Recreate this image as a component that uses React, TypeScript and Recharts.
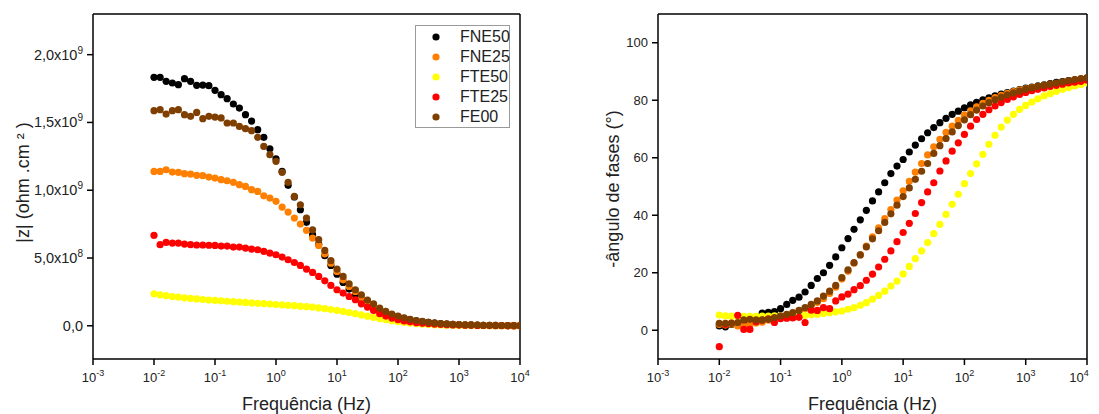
import React from "react";
import { ScatterChart, Scatter, XAxis, YAxis, Legend, ReferenceLine } from "recharts";

const FONT = '"Liberation Sans", Arial, sans-serif';
const TEXT = "#222";

// measured frequencies, 10 points per decade (Hz)
const freqs = [
  0.01, 0.0126, 0.0158, 0.02, 0.0251, 0.0316, 0.0398, 0.0501, 0.0631, 0.0794,
  0.1, 0.126, 0.158, 0.2, 0.251, 0.316, 0.398, 0.501, 0.631, 0.794,
  1, 1.26, 1.58, 2, 2.51, 3.16, 3.98, 5.01, 6.31, 7.94,
  10, 12.6, 15.8, 20, 25.1, 31.6, 39.8, 50.1, 63.1, 79.4,
  100, 126, 158, 200, 251, 316, 398, 501, 631, 794,
  1000, 1260, 1580, 2000, 2510, 3160, 3980, 5010, 6310, 7940,
  10000,
];

const decadeTicks = [0.001, 0.01, 0.1, 1, 10, 100, 1000, 10000];
const zTicks = [0, 0.5, 1.0, 1.5, 2.0]; // x10^9 ohm.cm²
const phaseTicks = [0, 20, 40, 60, 80, 100];
const xDomain = [0.001, 10000];
const zDomain = [-0.245, 2.3];
const phDomain = [-10, 110];

const seriesNames = ["FNE50", "FNE25", "FTE50", "FTE25", "FE00"];
const seriesColors = ["#000000", "#ff8000", "#ffff00", "#ff0000", "#7f3f00"];

// |Z| in units of 10^9 ohm.cm²
const zFNE50 = [
  1.833, 1.833, 1.803, 1.791, 1.779, 1.823, 1.803, 1.774, 1.776, 1.771,
  1.737, 1.705, 1.675, 1.636, 1.606, 1.557, 1.51, 1.447, 1.39, 1.306,
  1.232, 1.139, 1.036, 0.95, 0.856, 0.763, 0.672, 0.6, 0.517, 0.445,
  0.381, 0.32, 0.271, 0.229, 0.197, 0.165, 0.138, 0.115, 0.096, 0.08,
  0.067, 0.055, 0.045, 0.037, 0.03, 0.025, 0.02, 0.016, 0.013, 0.011,
  0.009, 0.007, 0.006, 0.005, 0.004, 0.0033, 0.0027, 0.0022, 0.0018, 0.0015,
  0.0012,
];
const zFNE25 = [
  1.139, 1.139, 1.151, 1.134, 1.132, 1.122, 1.119, 1.11, 1.107, 1.097,
  1.09, 1.078, 1.07, 1.058, 1.041, 1.028, 1.004, 0.991, 0.959, 0.942,
  0.918, 0.876, 0.839, 0.795, 0.75, 0.704, 0.647, 0.593, 0.531, 0.462,
  0.401, 0.339, 0.29, 0.253, 0.209, 0.17, 0.14, 0.113, 0.09, 0.072,
  0.058, 0.047, 0.038, 0.03, 0.024, 0.019, 0.016, 0.013, 0.01, 0.008,
  0.0065, 0.0053, 0.0043, 0.0035, 0.0028, 0.0023, 0.0019, 0.0015, 0.0012, 0.001,
  0.0008,
];
const zFTE50 = [
  0.236, 0.228, 0.222, 0.216, 0.211, 0.206, 0.202, 0.198, 0.194, 0.19,
  0.187, 0.184, 0.181, 0.178, 0.175, 0.172, 0.169, 0.166, 0.163, 0.16,
  0.157, 0.154, 0.151, 0.148, 0.145, 0.141, 0.137, 0.132, 0.126, 0.12,
  0.113, 0.106, 0.098, 0.089, 0.08, 0.071, 0.062, 0.053, 0.045, 0.038,
  0.031, 0.025, 0.02, 0.016, 0.012, 0.0095, 0.0075, 0.006, 0.0047, 0.0037,
  0.003, 0.0024, 0.0019, 0.0015, 0.0012, 0.001, 0.0008, 0.0006, 0.0005, 0.0004,
  0.0003,
];
const zFTE25 = [
  0.667, 0.598, 0.615, 0.61, 0.61, 0.603, 0.598, 0.596, 0.596, 0.594,
  0.593, 0.588, 0.588, 0.581, 0.581, 0.573, 0.566, 0.561, 0.549, 0.536,
  0.524, 0.507, 0.487, 0.467, 0.445, 0.418, 0.394, 0.364, 0.332, 0.298,
  0.266, 0.241, 0.216, 0.192, 0.162, 0.138, 0.113, 0.089, 0.072, 0.057,
  0.045, 0.036, 0.029, 0.023, 0.018, 0.015, 0.012, 0.0095, 0.0077, 0.0062,
  0.005, 0.004, 0.0033, 0.0027, 0.0022, 0.0018, 0.0015, 0.0012, 0.001, 0.0008,
  0.0007,
];
const zFE00 = [
  1.587, 1.594, 1.562, 1.587, 1.594, 1.557, 1.545, 1.574, 1.528, 1.545,
  1.54, 1.533, 1.496, 1.496, 1.471, 1.454, 1.439, 1.39, 1.323, 1.262,
  1.213, 1.132, 1.058, 0.954, 0.893, 0.795, 0.708, 0.635, 0.556, 0.48,
  0.418, 0.364, 0.31, 0.266, 0.229, 0.19, 0.162, 0.13, 0.106, 0.087,
  0.072, 0.059, 0.048, 0.039, 0.032, 0.026, 0.021, 0.017, 0.014, 0.011,
  0.009, 0.0075, 0.006, 0.005, 0.004, 0.0033, 0.0027, 0.0022, 0.0018, 0.0015,
  0.0012,
];

// -phase angle (degrees)
const phFNE50 = [
  1.5, 1.2, 2.0, 2.4, 3.0, 3.3, 3.8, 6.0, 6.2, 6.5,
  7.5, 9.0, 10.4, 11.5, 13.3, 15.6, 18.0, 20.0, 22.6, 25.5,
  28.7, 31.9, 35.1, 38.4, 41.7, 45.0, 48.1, 51.3, 54.5, 57.1,
  59.4, 62.0, 64.4, 66.6, 68.7, 70.5, 72.2, 73.7, 75.1, 76.2,
  77.4, 78.4, 79.3, 80.1, 80.8, 81.5, 82.1, 82.7, 83.2, 83.7,
  84.2, 84.6, 85.0, 85.4, 85.8, 86.2, 86.5, 86.8, 87.1, 87.4,
  87.7,
];
const phFNE25 = [
  2.0, 1.8, 2.2, 1.5, 1.5, 2.0, 2.5, 2.8, 3.5, 4.0,
  4.5, 5.2, 5.8, 6.5, 7.5, 8.5, 9.7, 11.0, 12.8, 15.0,
  17.8, 20.5, 23.3, 26.3, 29.3, 32.5, 35.6, 38.8, 42.0, 45.3,
  48.5, 51.8, 55.0, 58.0, 61.0, 63.8, 66.4, 68.8, 71.0, 73.0,
  74.8, 76.3, 77.7, 78.9, 80.0, 80.9, 81.7, 82.4, 83.0, 83.5,
  84.0, 84.4, 84.8, 85.2, 85.5, 85.8, 86.1, 86.4, 86.7, 87.0,
  87.3,
];
const phFTE50 = [
  5.3, 5.0, 4.9, 4.8, 4.8, 4.8, 4.8, 4.9, 4.9, 5.0,
  5.0, 5.0, 5.1, 5.1, 5.2, 5.4, 5.6, 5.8, 6.1, 6.4,
  6.7, 7.3, 7.9, 8.7, 9.6, 10.8, 12.1, 13.6, 15.4, 17.1,
  19.6, 22.2, 24.9, 27.6, 30.5, 33.6, 36.8, 40.3, 43.8, 47.3,
  51.0, 54.5, 57.9, 61.2, 64.7, 67.8, 70.7, 73.1, 75.1, 76.8,
  78.2, 79.4, 80.5, 81.5, 82.3, 83.1, 83.8, 84.4, 85.0, 85.5,
  86.0,
];
const phFTE25 = [
  -5.7, 2.0, 2.5, 5.2, 0.3, 0.3, 3.0, 3.5, 4.0, 2.7,
  4.0, 4.2, 4.3, 4.5, 2.7, 7.0, 6.9, 7.9, 7.5, 10.2,
  11.6, 12.6, 14.1, 15.5, 17.4, 19.5, 22.0, 24.7, 27.6, 30.8,
  34.0, 37.2, 40.6, 44.4, 48.1, 51.3, 55.4, 58.9, 62.3, 65.2,
  68.1, 71.0, 73.3, 75.1, 76.7, 78.0, 79.2, 80.3, 81.2, 82.0,
  82.7, 83.3, 83.8, 84.3, 84.8, 85.2, 85.6, 86.0, 86.3, 86.6,
  87.0,
];
const phFE00 = [
  2.4, 2.4, 2.4, 2.7, 3.6, 3.8, 3.6, 3.6, 3.8, 4.4,
  5.0, 5.5, 6.1, 6.9, 7.9, 9.0, 10.2, 11.9, 13.6, 15.6,
  18.3, 21.0, 23.5, 26.2, 29.0, 31.8, 34.6, 37.5, 40.5, 43.5,
  46.5, 49.5, 52.5, 55.3, 58.0, 61.5, 64.2, 66.7, 69.0, 71.2,
  73.2, 75.0, 76.6, 78.0, 79.2, 80.2, 81.1, 81.9, 82.6, 83.2,
  83.8, 84.3, 84.8, 85.2, 85.6, 86.0, 86.4, 86.8, 87.2, 87.5,
  87.9,
];

const zSeries = [zFNE50, zFNE25, zFTE50, zFTE25, zFE00];
const phSeries = [phFNE50, phFNE25, phFTE50, phFTE25, phFE00];

const toPoints = (vals: number[]) => freqs.map((f, i) => ({ f, v: vals[i] }));

const dot = (color: string) => (props: any) =>
  <circle cx={props.cx} cy={props.cy} r={3.6} fill={color} />;

const PowerTick = (props: any) => {
  const { x, y, payload } = props;
  const exp = Math.round(Math.log10(payload.value));
  return (
    <text x={x} y={y + 15} textAnchor="middle" fontSize={13} fill={TEXT} fontFamily={FONT}>
      10<tspan dy={-6} fontSize={9}>{exp}</tspan>
    </text>
  );
};

const ZTick = (props: any) => {
  const { x, y, payload } = props;
  const v = payload.value * 1e9;
  if (v === 0) {
    return (
      <text x={x - 2} y={y + 5} textAnchor="end" fontSize={14.5} fill={TEXT} fontFamily={FONT}>0,0</text>
    );
  }
  const exp = Math.floor(Math.log10(v) + 1e-9);
  const m = (v / Math.pow(10, exp)).toFixed(1).replace(".", ",");
  return (
    <text x={x - 2} y={y + 5} textAnchor="end" fontSize={14.5} fill={TEXT} fontFamily={FONT}>
      {m}x10<tspan dy={-6} fontSize={10}>{exp}</tspan>
    </text>
  );
};

const PhaseTick = (props: any) => {
  const { x, y, payload } = props;
  return (
    <text x={x - 2} y={y + 4.5} textAnchor="end" fontSize={13} fill={TEXT} fontFamily={FONT}>
      {payload.value}
    </text>
  );
};

const xTitle = (props: any) => {
  const vb = props.viewBox;
  return (
    <text x={vb.x + vb.width / 2} y={vb.y + vb.height - 4} textAnchor="middle" fontSize={18} fill={TEXT} fontFamily={FONT}>
      Frequência (Hz)
    </text>
  );
};

const yTitle = (text: string, dx: number, dy: number) => (props: any) => {
  const vb = props.viewBox;
  const cx = vb.x + dx;
  const cy = vb.y + vb.height / 2 + dy;
  return (
    <text x={cx} y={cy} transform={`rotate(-90 ${cx} ${cy})`} textAnchor="middle" dominantBaseline="central"
      fontSize={18} fill={TEXT} fontFamily={FONT}>
      {text}
    </text>
  );
};

const LegendBox = () => (
  <div style={{ width: 95, height: 103, border: "1px solid #9a9a9a", boxSizing: "border-box", background: "#fff",
    fontFamily: FONT, fontSize: 16, position: "relative" }}>
    {seriesNames.map((n, i) => (
      <div key={n} style={{ position: "absolute", left: 0, top: 1 + i * 20, height: 20, display: "flex", alignItems: "center" }}>
        <svg width={40} height={20}><circle cx={20} cy={10} r={3.6} fill={seriesColors[i]} /></svg>
        <span style={{ marginLeft: 4, color: TEXT }}>{n}</span>
      </div>
    ))}
  </div>
);

const axisLine = { stroke: "#000", strokeWidth: 1.5 };

const App = () => {
  return (
    <div style={{ position: "absolute", left: 0, top: 0, width: 1099, height: 414, background: "#fff" }}>
      <div style={{ position: "absolute", left: 0, top: 0 }}>
        <ScatterChart width={540} height={414} margin={{ top: 14, right: 20, bottom: 0, left: 0 }}>
          <XAxis dataKey="f" type="number" scale="log" domain={xDomain} ticks={decadeTicks}
            allowDataOverflow tick={<PowerTick />} height={55} axisLine={axisLine} tickLine={axisLine}
            label={xTitle} />
          <YAxis dataKey="v" type="number" domain={zDomain} ticks={zTicks} allowDataOverflow
            tick={<ZTick />} width={93} axisLine={axisLine} tickLine={axisLine}
            label={yTitle("|z| (ohm .cm ² )", 23, -4)} />
          {/* box frame: top and right edges */}
          <ReferenceLine y={zDomain[1]} stroke="#000" strokeWidth={1.5} />
          <ReferenceLine x={xDomain[1]} stroke="#000" strokeWidth={1.5} />
          <Legend layout="horizontal" verticalAlign="middle" align="center"
            wrapperStyle={{ top: 25, left: 415, width: 95, height: 103 }} content={() => <LegendBox />} />
          {zSeries.map((s, i) => (
            <Scatter key={seriesNames[i]} name={seriesNames[i]} data={toPoints(s)} fill={seriesColors[i]}
              shape={dot(seriesColors[i])} isAnimationActive={false} />
          ))}
        </ScatterChart>
      </div>
      <div style={{ position: "absolute", left: 560, top: 0 }}>
        <ScatterChart width={539} height={414} margin={{ top: 14, right: 12, bottom: 0, left: 0 }}>
          <XAxis dataKey="f" type="number" scale="log" domain={xDomain} ticks={decadeTicks}
            allowDataOverflow tick={<PowerTick />} height={55} axisLine={axisLine} tickLine={axisLine}
            label={xTitle} />
          <YAxis dataKey="v" type="number" domain={phDomain} ticks={phaseTicks} allowDataOverflow
            tick={<PhaseTick />} width={98} axisLine={axisLine} tickLine={axisLine}
            label={yTitle("-ângulo de fases (°)", 53, 2.5)} />
          <ReferenceLine y={phDomain[1]} stroke="#000" strokeWidth={1.5} />
          <ReferenceLine x={xDomain[1]} stroke="#000" strokeWidth={1.5} />
          {phSeries.map((s, i) => (
            <Scatter key={seriesNames[i]} name={seriesNames[i]} data={toPoints(s)} fill={seriesColors[i]}
              shape={dot(seriesColors[i])} isAnimationActive={false} />
          ))}
        </ScatterChart>
      </div>
    </div>
  );
};

export default App;
